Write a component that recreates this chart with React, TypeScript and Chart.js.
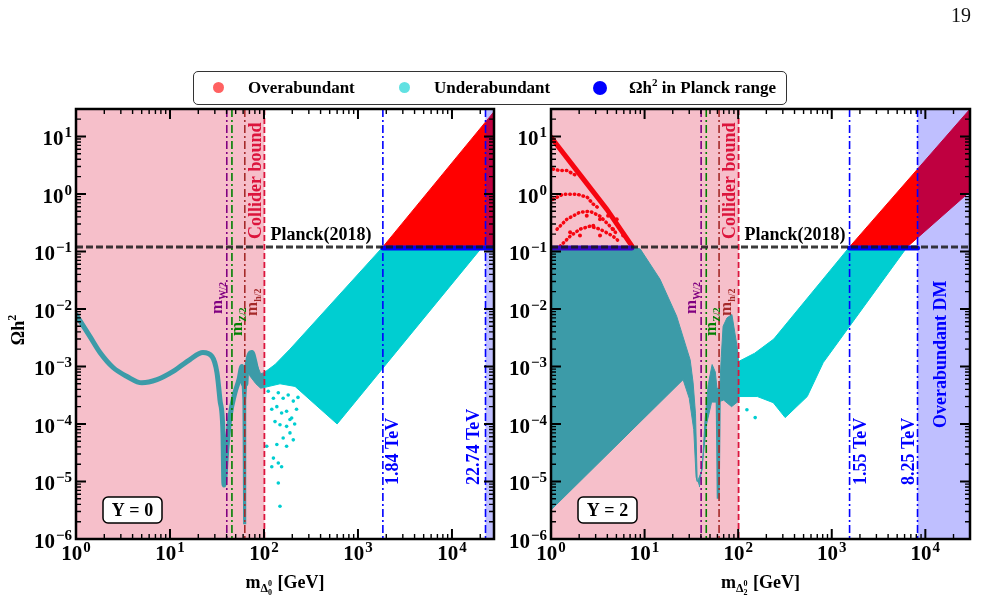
import { useEffect, useRef } from 'react';
import { Chart, registerables } from 'chart.js';

Chart.register(...registerables);

const SERIF = '"Liberation Serif", "Times New Roman", Times, serif';
const CYAN = '#00ced1';
const RED = '#ff0000';
const BLUE = '#0000ff';

// Reference values (GeV / relic density)
const PLANCK_OMEGA = 0.12;
const M_W_HALF = 40.2;
const M_Z_HALF = 45.6;
const M_H_HALF = 62.5;
const COLLIDER_BOUND = 101;

// Axis ranges and tick decades
const X_MIN = 1;
const X_MAX_Y0 = 28000;
const X_MAX_Y2 = 30000;
const Y_MIN = 1e-6;
const Y_MAX = 30;
const X_DECADES = [0, 1, 2, 3, 4];
const Y_DECADES = [-6, -5, -4, -3, -2, -1, 0, 1];
const MINOR_STEPS = [2, 3, 4, 5, 6, 7, 8, 9];

// Mass limits shown as vertical lines (GeV)
const TEV_LINES_Y0 = [1840, 22740];
const TEV_LABELS_Y0 = ['1.84 TeV', '22.74 TeV'];
const TEV_LINES_Y2 = [1550, 8250];
const TEV_LABELS_Y2 = ['1.55 TeV', '8.25 TeV'];

// ---- Y = 0 panel ----
const underBandY0 = [
  [100, 7.8e-4], [131, 1.08e-3], [189, 2.0e-3], [1840, 0.12], [21000, 0.12],
  [600, 1.0e-4], [349, 2.2e-4], [214, 4.5e-4], [148, 5.0e-4], [100, 4.3e-4],
];
const overTriY0 = [[1840, 0.12], [28000, 27], [28000, 0.12]];
const relicLowY0 = [
  [1, 8e-3], [1.41, 3.3e-3], [1.8, 1.75e-3], [2.48, 9.6e-4], [3.49, 6.7e-4],
  [5.03, 5.2e-4], [7.27, 5.9e-4], [10.8, 8.2e-4], [16.3, 1.32e-3], [22.4, 1.75e-3],
  [28, 1.49e-3], [31.6, 7.8e-4], [34, 2.65e-4], [36.6, 7e-5], [37.5, 8.7e-6],
  [40.4, 4e-5], [43.5, 1.34e-4], [49.1, 3.5e-4], [54.2, 5.9e-4], [58.3, 1e-3],
  [60.2, 5e-4],
];
const higgsDipY0 = [[58.3, 1e-3], [60.8, 2.6e-4], [61.8, 1.9e-6], [62.8, 2.6e-4], [65.9, 1e-3]];
const relicHighY0 = [
  [64.2, 5e-4], [65.9, 1e-3], [74.5, 1.75e-3], [80.2, 1.18e-3], [86.3, 6.7e-4], [97.5, 5.4e-4],
];
const shoulderY0 = [
  [64, 9e-4], [74.5, 1.9e-3], [82, 1.2e-3], [92, 7.5e-4], [101, 7.8e-4],
  [101, 4.3e-4], [92, 4.2e-4], [82, 5e-4], [70, 7e-4],
];
const strayY0 = [
  [111, 3.7e-4], [126, 2.8e-4], [142, 3.5e-4], [160, 2.8e-4], [181, 3.2e-4],
  [205, 2.5e-4], [222, 1.8e-4], [121, 1.8e-4], [137, 2.0e-4], [154, 1.55e-4],
  [174, 1.66e-4], [197, 1.27e-4], [131, 1.1e-4], [148, 9.7e-5], [174, 9.1e-5],
  [189, 7.0e-5], [160, 5.7e-5], [137, 4.4e-5], [174, 4.1e-5], [126, 2.55e-5],
  [142, 2.1e-5], [154, 1.8e-5], [121, 1.8e-5], [142, 9.4e-6], [148, 3.7e-6],
  [205, 5.3e-5], [189, 1.2e-4], [107, 4.1e-5], [230, 2.9e-4], [212, 1.0e-4],
];
const planckY0 = [[1840, 0.115], [28000, 0.115]];

// ---- Y = 2 panel ----
const cloudAY2 = [
  [1, 0.12], [7.3, 0.12], [9, 0.11], [14.6, 0.033], [22, 7.5e-3], [30.7, 1.3e-3],
  [33, 5.2e-4], [35, 1.5e-4], [36.5, 1.0e-5], [35.5, 1.2e-5], [33.5, 8e-5],
  [30, 2.8e-4], [25.8, 5.9e-4], [1, 3.2e-6],
];
const cloudBY2 = [
  [36.8, 1.0e-5], [41.2, 1.6e-5], [44.3, 1.2e-4], [47.8, 4.8e-4], [52.7, 1.08e-3],
  [57, 8e-4], [59.5, 4e-4], [63.5, 4e-4], [66, 1.5e-3], [69, 5e-3], [76, 7e-3],
  [85.7, 8e-3], [97, 2.3e-3], [101, 1.2e-3], [101, 2.5e-4], [85, 2.0e-4],
  [70, 2.6e-4], [60, 2.4e-4], [52, 2.4e-4], [46, 1.0e-4], [42, 2.5e-5], [38.5, 8e-6],
];
const hDipY2 = [[59.5, 4e-4], [61.2, 5e-6], [63, 4e-4]];
const underBandY2 = [
  [101, 1.22e-3], [150, 1.7e-3], [240, 3.0e-3], [1550, 0.12],
  [6400, 0.12], [811, 1.17e-3], [547, 3.0e-4], [318, 1.29e-4], [237, 2.35e-4],
  [160, 3.0e-4], [101, 3.0e-4],
];
const overParY2 = [[1550, 0.12], [30000, 30], [30000, 1.1], [6400, 0.12]];
const redEdgeY2 = [[1, 9.7], [2.22, 1.81], [3.94, 0.545], [7.3, 0.125]];
const redArc1Y2 = [[1.05, 2.7], [1.25, 2.55], [1.48, 2.55], [1.9, 2.05]];
const redArc2Y2 = [[1.05, 0.81], [1.34, 0.99], [1.9, 0.99], [2.43, 0.88], [2.81, 0.67], [3.34, 0.545]];
const redArc3Y2 = [[1.16, 0.244], [1.48, 0.364], [2.04, 0.482], [2.61, 0.5], [3.34, 0.41], [4.27, 0.275], [5.08, 0.2]];
const redArc4Y2 = [[1.25, 0.123], [1.6, 0.184], [2.04, 0.244], [2.61, 0.275], [3.34, 0.244], [4.6, 0.184], [5.47, 0.145]];
const redDotsY2 = [
  [2.41, 0.416], [2.83, 0.279], [3.34, 0.364], [4.6, 0.244], [5.04, 0.364],
  [5.9, 0.19], [2.04, 0.19], [1.6, 0.216], [3.34, 0.19], [4.07, 0.416],
];
const strayY2 = [[124, 1.77e-4], [152, 1.29e-4]];
const planckLowY2 = [[1, 0.115], [7.3, 0.115]];
const planckHighY2 = [[1550, 0.115], [8250, 0.115]];

type Row = number[];
const pts = (rows: Row[]) => rows.map(([x, y]) => ({ x, y }));

const poly = (rows: Row[], color: string, order: number) => ({
  data: pts(rows), showLine: true, fill: 'shape', backgroundColor: color,
  borderColor: color, borderWidth: 1, pointRadius: 0, tension: 0, order,
});
const curve = (rows: Row[], color: string, width: number, order: number, extra: any = {}) => ({
  data: pts(rows), showLine: true, fill: false, borderColor: color,
  borderWidth: width, pointRadius: 0, tension: 0, order, borderCapStyle: 'round', ...extra,
});
const dots = (rows: Row[], color: string, r: number, order: number) => ({
  data: pts(rows), showLine: false, pointRadius: r, pointBackgroundColor: color,
  pointBorderWidth: 0, backgroundColor: color, borderColor: color, order,
});

const DASH_DOT = [8, 3, 2, 3];

type Area = { left: number; right: number; top: number; bottom: number };

function vline(ctx: CanvasRenderingContext2D, x: number, a: Area, color: string, dash: number[], width = 1.6) {
  ctx.save();
  ctx.strokeStyle = color;
  ctx.lineWidth = width;
  ctx.setLineDash(dash);
  ctx.beginPath();
  ctx.moveTo(x, a.top);
  ctx.lineTo(x, a.bottom);
  ctx.stroke();
  ctx.restore();
}

type Part = { t: string; size: number; dy: number };

function partsWidth(ctx: CanvasRenderingContext2D, parts: Part[]) {
  let w = 0;
  for (const p of parts) {
    ctx.font = `bold ${p.size}px ${SERIF}`;
    w += ctx.measureText(p.t).width;
  }
  return w;
}

// Text rotated to read bottom-to-top, starting at (cx, y0) or centred on it.
function drawRotated(ctx: CanvasRenderingContext2D, cx: number, y0: number, parts: Part[], color: string, centered = false) {
  ctx.save();
  ctx.translate(cx, y0);
  ctx.rotate(-Math.PI / 2);
  ctx.fillStyle = color;
  ctx.textAlign = 'left';
  ctx.textBaseline = 'alphabetic';
  let x = centered ? -partsWidth(ctx, parts) / 2 : 0;
  for (const p of parts) {
    ctx.font = `bold ${p.size}px ${SERIF}`;
    ctx.fillText(p.t, x, p.dy);
    x += ctx.measureText(p.t).width;
  }
  ctx.restore();
}

function drawPow(ctx: CanvasRenderingContext2D, x: number, baseline: number, exp: number, align: 'center' | 'right') {
  const sup = exp < 0 ? '\u2212' + -exp : String(exp);
  ctx.font = `bold 21px ${SERIF}`;
  const wb = ctx.measureText('10').width;
  ctx.font = `bold 15px ${SERIF}`;
  const ws = ctx.measureText(sup).width;
  const total = wb + ws + 1;
  const x0 = align === 'right' ? x - total : x - total / 2;
  ctx.fillStyle = '#000';
  ctx.textAlign = 'left';
  ctx.textBaseline = 'alphabetic';
  ctx.font = `bold 21px ${SERIF}`;
  ctx.fillText('10', x0, baseline);
  ctx.font = `bold 15px ${SERIF}`;
  ctx.fillText(sup, x0 + wb + 1, baseline - 8);
}

function roundBox(ctx: CanvasRenderingContext2D, x: number, y: number, w: number, h: number, r: number) {
  ctx.beginPath();
  ctx.moveTo(x + r, y);
  ctx.arcTo(x + w, y, x + w, y + h, r);
  ctx.arcTo(x + w, y + h, x, y + h, r);
  ctx.arcTo(x, y + h, x, y, r);
  ctx.arcTo(x, y, x + w, y, r);
  ctx.closePath();
}

type PanelSpec = {
  boxText: string;
  xMax: number;
  tevLines: number[];
  tevLabels: string[];
  tevOffsets: number[];
  shadeFrom: number;
  shadeText?: string;
  showYTitle: boolean;
  deltaSub: string;
};

function panelDecor(spec: PanelSpec) {
  return {
    id: 'panelDecor',
    afterDatasetsDraw(chart: any) {
      const ctx: CanvasRenderingContext2D = chart.ctx;
      const a: Area = chart.chartArea;
      const X = (v: number) => chart.scales.x.getPixelForValue(v);
      const Y = (v: number) => chart.scales.y.getPixelForValue(v);
      const h = a.bottom - a.top;
      ctx.save();

      // excluded / overabundant shaded bands
      const xc = X(COLLIDER_BOUND);
      ctx.fillStyle = 'rgba(220,20,60,0.27)';
      ctx.fillRect(a.left, a.top, xc - a.left, h);
      const xs = X(spec.shadeFrom);
      ctx.fillStyle = 'rgba(0,0,255,0.25)';
      ctx.fillRect(xs, a.top, a.right - xs, h);

      // resonance and bound lines
      vline(ctx, X(M_W_HALF), a, '#800080', DASH_DOT);
      vline(ctx, X(M_Z_HALF), a, '#008000', DASH_DOT);
      vline(ctx, X(M_H_HALF), a, '#a52a2a', DASH_DOT);
      vline(ctx, xc, a, '#dc143c', [6, 3], 1.8);
      spec.tevLines.forEach((m) => vline(ctx, X(m), a, BLUE, DASH_DOT));

      // Planck line
      const yp = Y(PLANCK_OMEGA);
      ctx.save();
      ctx.strokeStyle = 'rgba(25,25,25,0.85)';
      ctx.lineWidth = 3;
      ctx.setLineDash([7, 3]);
      ctx.beginPath();
      ctx.moveTo(a.left, yp);
      ctx.lineTo(a.right, yp);
      ctx.stroke();
      ctx.restore();

      ctx.fillStyle = '#000';
      ctx.font = `bold 18px ${SERIF}`;
      ctx.textAlign = 'left';
      ctx.textBaseline = 'alphabetic';
      ctx.fillText('Planck(2018)', xc + 6, yp - 7);

      drawRotated(ctx, xc - 9.5, yp - 8, [{ t: 'Collider bound', size: 18, dy: 6 }], '#dc143c');
      drawRotated(ctx, X(M_W_HALF) - 9, 314, [{ t: 'm', size: 17, dy: 4 }, { t: 'W/2', size: 10, dy: 8 }], '#800080');
      drawRotated(ctx, X(M_Z_HALF) + 6, 336, [{ t: 'm', size: 17, dy: 4 }, { t: 'Z/2', size: 10, dy: 8 }], '#008000');
      drawRotated(ctx, X(M_H_HALF) + 8, 316, [{ t: 'm', size: 17, dy: 4 }, { t: 'h/2', size: 10, dy: 8 }], '#a52a2a');

      spec.tevLines.forEach((m, i) => {
        drawRotated(ctx, X(m) + spec.tevOffsets[i], 485, [{ t: spec.tevLabels[i], size: 18, dy: 6 }], BLUE);
      });
      if (spec.shadeText) {
        drawRotated(ctx, (xs + a.right) / 2 - 4, 428, [{ t: spec.shadeText, size: 18, dy: 6 }], BLUE);
      }

      // hypercharge box
      const bx = a.left + 27;
      const by = a.bottom - 42;
      roundBox(ctx, bx, by, 59, 26, 5);
      ctx.fillStyle = '#fff';
      ctx.fill();
      ctx.lineWidth = 1.5;
      ctx.strokeStyle = '#000';
      ctx.setLineDash([]);
      ctx.stroke();
      ctx.fillStyle = '#000';
      ctx.font = `bold 18px ${SERIF}`;
      ctx.textAlign = 'center';
      ctx.fillText(spec.boxText, bx + 29.5, by + 19);

      // frame and inward ticks on all sides
      ctx.strokeStyle = '#000';
      ctx.setLineDash([]);
      const steps = [1, ...MINOR_STEPS];
      for (const d of X_DECADES) {
        for (const s of steps) {
          const v = s * Math.pow(10, d);
          if (v < X_MIN || v > spec.xMax) continue;
          const px = X(v);
          const len = s === 1 ? 10 : 5;
          ctx.lineWidth = s === 1 ? 2 : 1.4;
          ctx.beginPath();
          ctx.moveTo(px, a.bottom);
          ctx.lineTo(px, a.bottom - len);
          ctx.moveTo(px, a.top);
          ctx.lineTo(px, a.top + len);
          ctx.stroke();
        }
      }
      for (const d of Y_DECADES) {
        for (const s of steps) {
          const v = s * Math.pow(10, d);
          if (v < Y_MIN || v > Y_MAX) continue;
          const py = Y(v);
          const len = s === 1 ? 10 : 5;
          ctx.lineWidth = s === 1 ? 2 : 1.4;
          ctx.beginPath();
          ctx.moveTo(a.left, py);
          ctx.lineTo(a.left + len, py);
          ctx.moveTo(a.right, py);
          ctx.lineTo(a.right - len, py);
          ctx.stroke();
        }
      }
      ctx.lineWidth = 2.5;
      ctx.strokeRect(a.left, a.top, a.right - a.left, h);

      // tick labels
      X_DECADES.forEach((d) => drawPow(ctx, X(Math.pow(10, d)), a.bottom + 21, d, 'center'));
      Y_DECADES.forEach((d) => drawPow(ctx, a.left - 4, Y(Math.pow(10, d)) + 9, d, 'right'));

      // x-axis title: m_{Δ^0_Y} [GeV]
      const cx = (a.left + a.right) / 2;
      const B = 588;
      ctx.textAlign = 'left';
      ctx.font = `bold 18px ${SERIF}`;
      const wm = ctx.measureText('m').width;
      ctx.font = `bold 12px ${SERIF}`;
      const wd = ctx.measureText('\u0394').width;
      ctx.font = `bold 8px ${SERIF}`;
      const w0 = ctx.measureText('0').width;
      ctx.font = `bold 18px ${SERIF}`;
      const wg = ctx.measureText(' [GeV]').width;
      let x0 = cx - (wm + wd + w0 + 1 + wg) / 2;
      ctx.fillText('m', x0, B);
      x0 += wm;
      ctx.font = `bold 12px ${SERIF}`;
      ctx.fillText('\u0394', x0, B + 4);
      x0 += wd;
      ctx.font = `bold 8px ${SERIF}`;
      ctx.fillText('0', x0, B - 2);
      ctx.fillText(spec.deltaSub, x0, B + 7);
      x0 += w0 + 1;
      ctx.font = `bold 18px ${SERIF}`;
      ctx.fillText(' [GeV]', x0, B);

      if (spec.showYTitle) {
        drawRotated(ctx, 18, (a.top + a.bottom) / 2 + 6, [
          { t: '\u03a9h', size: 18, dy: 6 },
          { t: '2', size: 12, dy: -2 },
        ], '#000', true);
      }
      ctx.restore();
    },
  };
}

function makeChart(canvas: HTMLCanvasElement, datasets: any[], spec: PanelSpec, padding: any) {
  return new Chart(canvas, {
    type: 'line',
    data: { datasets },
    options: {
      responsive: false,
      animation: false,
      devicePixelRatio: 1,
      events: [],
      layout: { padding },
      plugins: { legend: { display: false }, tooltip: { enabled: false } },
      scales: {
        x: { type: 'logarithmic', min: X_MIN, max: spec.xMax, display: false },
        y: { type: 'logarithmic', min: Y_MIN, max: Y_MAX, display: false },
      },
    } as any,
    plugins: [panelDecor(spec)],
  } as any);
}

const legendItems = [
  { label: 'Overabundant', color: 'rgba(255,0,0,0.62)', size: 11, dot: 24, text: 54 },
  { label: 'Underabundant', color: 'rgba(0,206,209,0.62)', size: 11, dot: 210, text: 240 },
  { label: 'PLANCK', color: BLUE, size: 14, dot: 406, text: 435 },
];

export default function App() {
  const leftRef = useRef<HTMLCanvasElement>(null);
  const rightRef = useRef<HTMLCanvasElement>(null);

  useEffect(() => {
    const smooth = { cubicInterpolationMode: 'monotone' };
    const left = makeChart(
      leftRef.current!,
      [
        poly(underBandY0, CYAN, 10),
        poly(shoulderY0, CYAN, 9),
        poly(overTriY0, RED, 8),
        curve(relicLowY0, CYAN, 5, 7, smooth),
        curve(higgsDipY0, CYAN, 2.5, 7),
        curve(relicHighY0, CYAN, 5, 7, smooth),
        dots(strayY0, CYAN, 1.8, 6),
        curve(planckY0, BLUE, 5, 1),
      ],
      {
        boxText: 'Y = 0', xMax: X_MAX_Y0, tevLines: TEV_LINES_Y0, tevLabels: TEV_LABELS_Y0,
        tevOffsets: [9, -13], shadeFrom: TEV_LINES_Y0[1], showYTitle: true, deltaSub: '0',
      },
      { left: 76, right: 6, top: 109, bottom: 57 },
    );
    const right = makeChart(
      rightRef.current!,
      [
        poly(cloudAY2, CYAN, 10),
        poly(cloudBY2, CYAN, 10),
        curve(hDipY2, CYAN, 3, 9),
        poly(underBandY2, CYAN, 9),
        poly(overParY2, RED, 8),
        curve(redEdgeY2, RED, 5, 7),
        curve(redArc1Y2, RED, 3.5, 6, { borderDash: [0.5, 4] }),
        curve(redArc2Y2, RED, 3.5, 6, { borderDash: [0.5, 4] }),
        curve(redArc3Y2, RED, 3.5, 6, { borderDash: [0.5, 4] }),
        curve(redArc4Y2, RED, 3.5, 6, { borderDash: [0.5, 4] }),
        dots(redDotsY2, RED, 2, 5),
        dots(strayY2, CYAN, 1.8, 5),
        curve(planckLowY2, BLUE, 5, 1),
        curve(planckHighY2, BLUE, 5, 1),
      ],
      {
        boxText: 'Y = 2', xMax: X_MAX_Y2, tevLines: TEV_LINES_Y2, tevLabels: TEV_LABELS_Y2,
        tevOffsets: [10, -10], shadeFrom: TEV_LINES_Y2[1], shadeText: 'Overabundant DM',
        showYTitle: false, deltaSub: '2',
      },
      { left: 51, right: 11, top: 109, bottom: 57 },
    );
    return () => {
      left.destroy();
      right.destroy();
    };
  }, []);

  return (
    <div style={{ position: 'absolute', left: 0, top: 0, width: 981, height: 596, background: '#fff', overflow: 'hidden' }}>
      <canvas ref={leftRef} width={500} height={596} style={{ position: 'absolute', left: 0, top: 0 }} />
      <canvas ref={rightRef} width={481} height={596} style={{ position: 'absolute', left: 500, top: 0 }} />
      <div style={{ position: 'absolute', left: 951, top: 5, font: `20px ${SERIF}`, lineHeight: '20px', color: '#111' }}>19</div>
      <div
        style={{
          position: 'absolute', left: 193, top: 71, width: 594, height: 34, boxSizing: 'border-box',
          border: '1.5px solid #333', borderRadius: 5, background: '#fff',
          font: `bold 17px ${SERIF}`, color: '#000',
        }}
      >
        {legendItems.map((it) => (
          <div key={it.label}>
            <div
              style={{
                position: 'absolute', left: it.dot - it.size / 2, top: 15.5 - it.size / 2,
                width: it.size, height: it.size, borderRadius: '50%', background: it.color,
              }}
            />
            <div style={{ position: 'absolute', left: it.text, top: 0, lineHeight: '31px', whiteSpace: 'nowrap' }}>
              {it.label === 'PLANCK' ? (
                <span>
                  {'\u03a9h'}
                  <sup style={{ fontSize: 11, lineHeight: 0 }}>2</sup>
                  {' in Planck range'}
                </span>
              ) : (
                it.label
              )}
            </div>
          </div>
        ))}
      </div>
    </div>
  );
}
